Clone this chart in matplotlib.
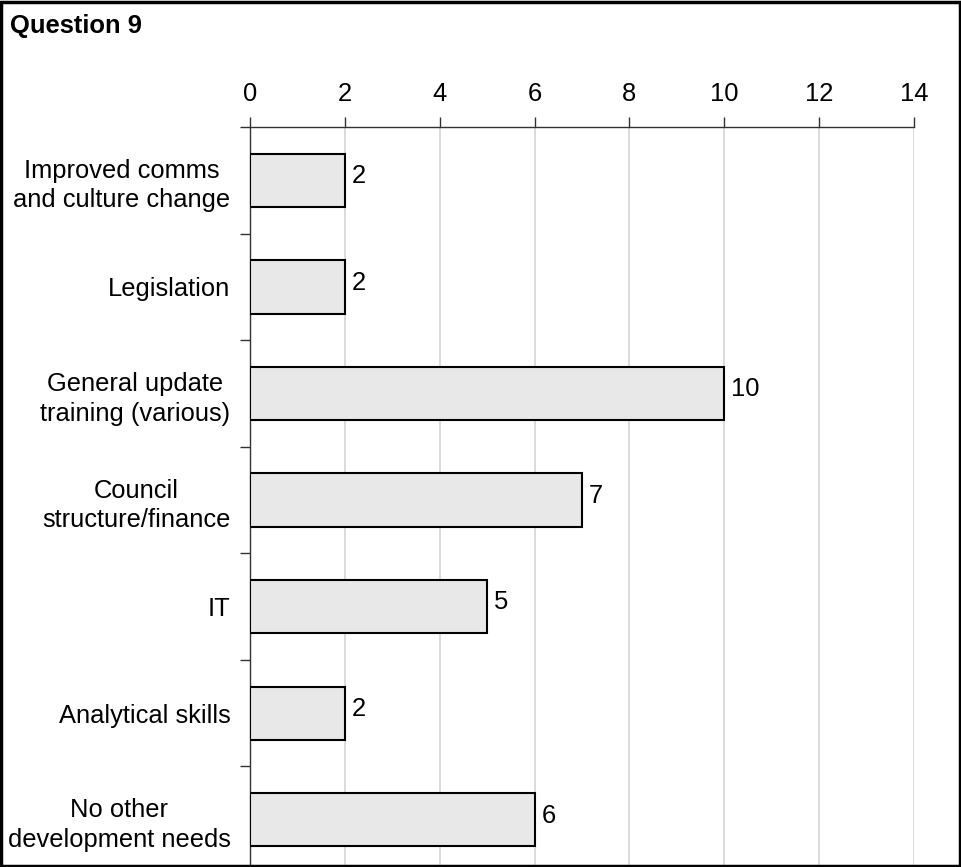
import matplotlib.pyplot as plt
from matplotlib.patches import Rectangle

plt.rcParams['font.family'] = ['Liberation Sans', 'DejaVu Sans']

categories = ['Improved comms\nand culture change', 'Legislation',
              'General update\ntraining (various)', 'Council\nstructure/finance',
              'IT', 'Analytical skills', 'No other\ndevelopment needs']
values = [2, 2, 10, 7, 5, 2, 6]
xticks = [0, 2, 4, 6, 8, 10, 12, 14]

fs = 18.4
fig = plt.figure(figsize=(9.62, 8.67), dpi=100)
ax = fig.add_axes([250 / 962, 1 - 873 / 867, 664 / 962, 746 / 867])

ypos = list(range(len(categories)))
ax.barh(ypos, values, height=0.5, color='#e8e8e8', edgecolor='black',
        linewidth=1.5, zorder=3)
for y, v in zip(ypos, values):
    ax.annotate(str(v), (v, y), xytext=(5, 3), textcoords='offset points',
                ha='left', va='center', fontsize=fs, zorder=4)

ax.set_xlim(0, 14)
ax.set_ylim(len(categories) - 0.5, -0.5)
ax.set_xticks(xticks)
ax.xaxis.tick_top()
ax.tick_params(axis='x', which='major', direction='out', length=7, width=1,
               color='#333333', labelsize=fs, pad=8)
ax.xaxis.grid(True, color='#d8d8d8', linewidth=1.3, zorder=0)

# category boundary ticks on the left, labels centred between them
ax.set_yticks([i - 0.5 for i in range(len(categories) + 1)])
ax.set_yticklabels([])
ax.set_yticks(ypos, minor=True)
ax.set_yticklabels(categories, minor=True, fontsize=fs, ha='right',
                   multialignment='center', linespacing=1.3)
ax.tick_params(axis='y', which='minor', length=0, pad=14)
ax.tick_params(axis='y', which='major', direction='out', length=7, width=1,
               color='#333333')
for lbl in ax.get_yticklabels(minor=True):
    lbl.set_y(lbl.get_position()[1])

for s in ['right', 'bottom']:
    ax.spines[s].set_visible(False)
ax.spines['left'].set_color('#333333')
ax.spines['top'].set_color('#333333')
ax.spines['left'].set_linewidth(1)
ax.spines['top'].set_linewidth(1)

fig.text(10 / 962, 1 - 26 / 867, 'Question 9', fontsize=fs, fontweight='bold',
         ha='left', va='center')
fig.patches.append(Rectangle((0.001, 0.001), 0.997, 0.997, transform=fig.transFigure,
                             fill=False, edgecolor='black', linewidth=2.5))

fig.savefig('out.png', dpi=100)
